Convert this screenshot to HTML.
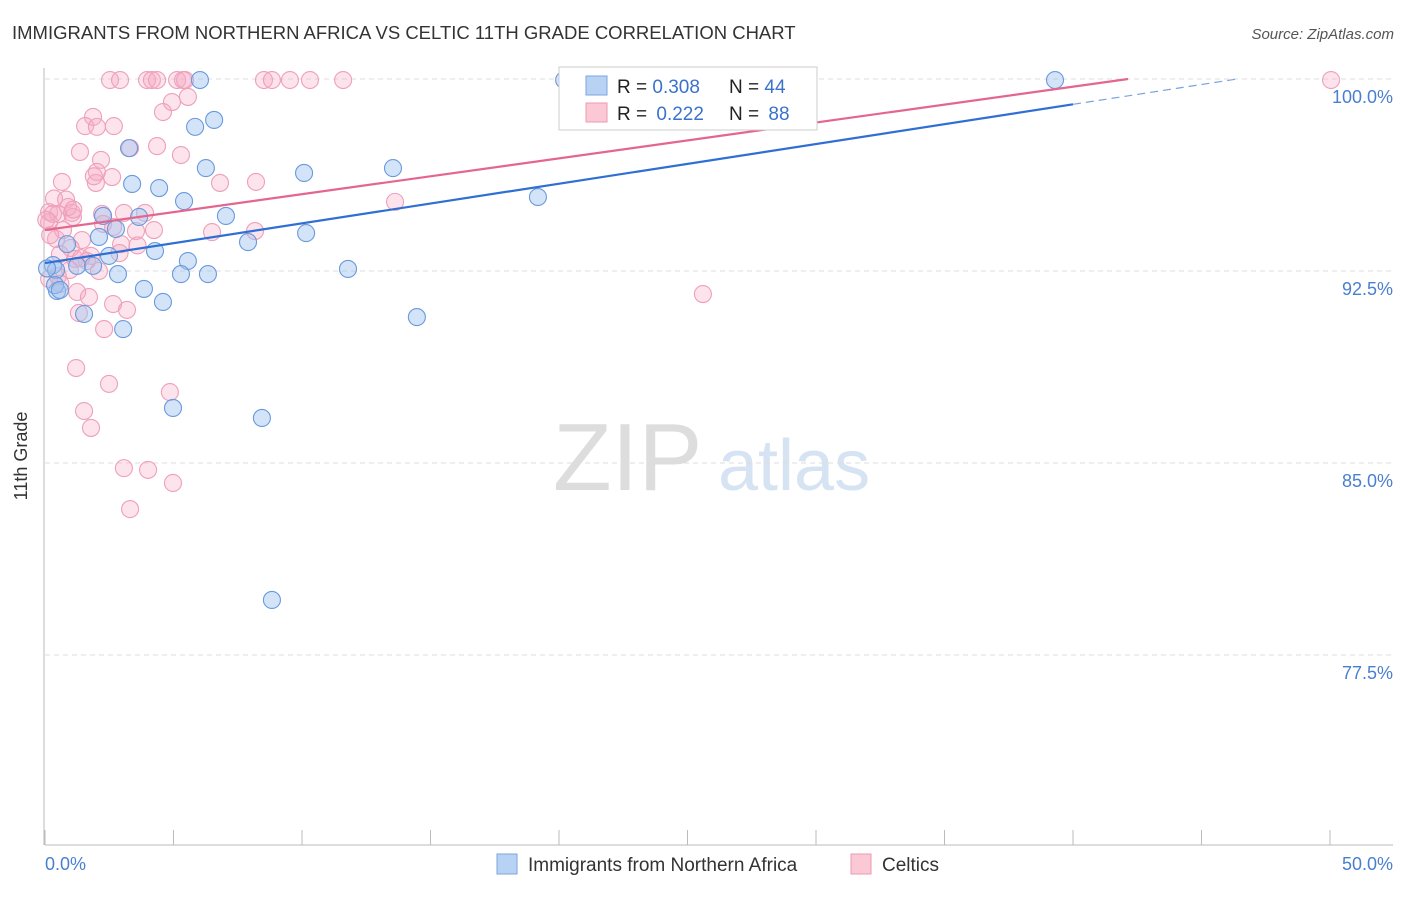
<!DOCTYPE html>
<html><head><meta charset="utf-8"><style>
body{margin:0;background:#fff;font-family:"Liberation Sans",sans-serif;}
svg text{font-family:"Liberation Sans",sans-serif;}
</style></head><body>
<svg id="chart" width="1406" height="892" viewBox="0 0 1406 892" xmlns="http://www.w3.org/2000/svg">
<text x="12" y="39" font-size="18.5" fill="#333">IMMIGRANTS FROM NORTHERN AFRICA VS CELTIC 11TH GRADE CORRELATION CHART</text>
<text x="1394" y="39" font-size="15" fill="#555" text-anchor="end" font-style="italic">Source: ZipAtlas.com</text>
<g>
<text x="553" y="490" font-size="96" fill="#ddd" font-family="Liberation Serif,serif">ZIP</text>
<text x="718" y="490" font-size="72" fill="#d6e3f3">atlas</text>
</g>
<g id="grid"></g>
<g id="axes"></g>
<g id="points"></g>
<g id="trends"></g>
<g>
<rect x="559" y="67" width="258" height="63" fill="#fff" stroke="#ccc"/>
<rect x="586" y="76" width="21" height="19" fill="#b8d2f4" stroke="#7aa6e0"/>
<rect x="586" y="103" width="21" height="19" fill="#fbc8d6" stroke="#ee9ab3"/>
<text x="617" y="93" font-size="19" fill="#222">R = <tspan fill="#3a72cc">0.308</tspan></text>
<text x="729" y="93" font-size="19" fill="#222">N = <tspan fill="#3a72cc">44</tspan></text>
<text x="617" y="120" font-size="19" fill="#222">R = <tspan fill="#3a72cc" dx="4">0.222</tspan></text>
<text x="729" y="120" font-size="19" fill="#222">N = <tspan fill="#3a72cc" dx="4">88</tspan></text>
</g>
<g>
<rect x="497" y="854" width="20" height="20" fill="#b8d2f4" stroke="#7aa6e0"/>
<text x="528" y="871" font-size="19" fill="#333">Immigrants from Northern Africa</text>
<rect x="851" y="854" width="20" height="20" fill="#fbc8d6" stroke="#ee9ab3"/>
<text x="882" y="871" font-size="19" fill="#333">Celtics</text>
</g>
<text x="27" y="456" font-size="18" fill="#333" text-anchor="middle" transform="rotate(-90 27 456)">11th Grade</text>
</svg>
<script>
const blueX=[6.03,20.2,39.3,5.84,6.58,3.27,6.26,10.08,13.54,3.39,4.44,5.41,19.18,2.26,7.04,3.66,2.76,2.10,10.16,7.90,0.86,4.28,2.49,5.56,0.31,1.25,1.87,2.84,5.29,6.34,11.79,0.43,3.85,0.47,4.59,1.52,14.47,3.04,4.98,8.44,8.83,0.08,0.39,0.58];
const blueY=[99.96,99.96,99.96,98.13,98.40,97.30,96.52,96.33,96.52,95.90,95.74,95.23,95.39,94.65,94.65,94.61,94.14,93.83,93.98,93.63,93.55,93.28,93.09,92.89,92.73,92.70,92.70,92.38,92.38,92.38,92.58,92.54,91.80,91.72,91.29,90.82,90.70,90.23,87.15,86.76,79.65,92.6,91.95,91.76];
const pinkX=[2.53,2.92,3.97,4.16,4.36,5.14,5.37,5.45,8.52,8.83,9.53,10.31,11.60,50.04,4.94,5.56,4.59,1.87,1.56,2.02,2.68,3.31,4.36,5.29,1.36,2.18,2.02,2.61,1.98,0.66,6.81,8.21,13.62,0.35,0.82,0.16,0.51,1.05,2.22,3.07,3.89,1.09,2.26,2.65,3.54,4.24,6.50,8.17,0.43,1.44,2.96,0.58,1.79,1.17,1.63,0.16,0.97,1.25,1.71,1.32,2.65,3.19,2.30,25.6,1.21,2.49,4.86,1.52,1.79,3.07,4.01,4.98,3.31,0.16,0.31,0.70,1.0,0.2,0.5,1.4,2.1,3.6,0.9,1.9,2.9,0.05,0.6,1.1];
const pinkY=[99.96,99.96,99.96,99.96,99.96,99.96,99.96,99.96,99.96,99.96,99.96,99.96,99.96,99.96,99.10,99.30,98.71,98.52,98.16,98.13,98.16,97.30,97.38,97.03,97.15,96.84,96.37,96.17,95.94,95.98,95.94,95.98,95.20,95.33,95.29,94.80,94.73,94.77,94.73,94.77,94.77,94.61,94.34,94.22,94.06,94.10,94.02,94.06,93.75,93.71,93.55,93.16,93.09,92.97,92.89,92.19,92.54,91.68,91.48,90.86,91.21,90.98,90.23,91.6,88.71,88.09,87.77,87.03,86.37,84.80,84.73,84.22,83.20,94.41,94.73,94.10,93.4,93.9,92.3,93.0,92.5,93.5,95.0,96.2,93.2,94.5,92.0,94.9];
const trendIntercept=[92.81,94.10];
const trendSlope=[0.155,0.140];
const trendSolidEnd=[40];
const xTicks=[0,5,10,15,20,25,30,35,40,45,50];
const yTicks=[100,92.5,85,77.5];
const yTickLabels=["100.0%","92.5%","85.0%","77.5%"];
const xEndLabels=["0.0%","50.0%"];

const NS="http://www.w3.org/2000/svg";
const X0=45,X1=1330,Y100=79,PXPER=25.6;
function sx(v){return X0+(v/50)*(X1-X0);}
function sy(v){return Y100+(100-v)*PXPER;}
function mk(tag,attrs,parent){const e=document.createElementNS(NS,tag);for(const k in attrs)e.setAttribute(k,attrs[k]);parent.appendChild(e);return e;}
const grid=document.getElementById('grid'),axes=document.getElementById('axes'),pts=document.getElementById('points'),tr=document.getElementById('trends');
yTicks.forEach((t,i)=>{
 const l=mk('line',{x1:45,x2:1393,y1:sy(t),y2:sy(t),stroke:'#ddd','stroke-dasharray':'5,4'},grid);
 
 
 const tx=mk('text',{x:1393,y:sy(t)+24,'font-size':18,fill:'#4a7fd0','text-anchor':'end'},axes);
 tx.textContent=yTickLabels[i];
 
 
});
const ax=mk('line',{x1:45,x2:1393,y1:845,y2:845,stroke:'#bbb'},axes);


const ay=mk('line',{x1:44,x2:44,y1:68,y2:845,stroke:'#bbb'},axes);


xTicks.forEach(t=>{
 const l=mk('line',{x1:sx(t),x2:sx(t),y1:830,y2:845,stroke:'#bbb'},axes);
 
 
});
const xl0=mk('text',{x:45,y:870,'font-size':18,fill:'#4a7fd0'},axes);
xl0.textContent=xEndLabels[0];


const xl1=mk('text',{x:1393,y:870,'font-size':18,fill:'#4a7fd0','text-anchor':'end'},axes);
xl1.textContent=xEndLabels[1];


pinkX.forEach((x,i)=>{
 const c=mk('circle',{cx:sx(x),cy:sy(pinkY[i]),r:8.5,fill:'rgba(246,170,196,0.33)',stroke:'#eea0b9','stroke-width':1.1},pts);
 
 
});
blueX.forEach((x,i)=>{
 const c=mk('circle',{cx:sx(x),cy:sy(blueY[i]),r:8.5,fill:'rgba(160,196,240,0.45)',stroke:'#6a9adc','stroke-width':1.1},pts);
 
 
});
const bEnd=trendSolidEnd[0];
const bMaxX=(100-trendIntercept[0])/trendSlope[0];
const b1=mk('line',{x1:sx(0),y1:sy(trendIntercept[0]),x2:sx(bEnd),y2:sy(trendIntercept[0]+trendSlope[0]*bEnd),stroke:'#2f6fd4','stroke-width':2.2},tr);


const b2=mk('line',{x1:sx(bEnd),y1:sy(trendIntercept[0]+trendSlope[0]*bEnd),x2:sx(bMaxX),y2:sy(100),stroke:'#7aa3e0','stroke-width':1.2,'stroke-dasharray':'8,5'},tr);


const pMaxX=(100-trendIntercept[1])/trendSlope[1];
const p1=mk('line',{x1:sx(0),y1:sy(trendIntercept[1]),x2:sx(pMaxX),y2:sy(100),stroke:'#e4668e','stroke-width':2.2},tr);


</script>
</body></html>
